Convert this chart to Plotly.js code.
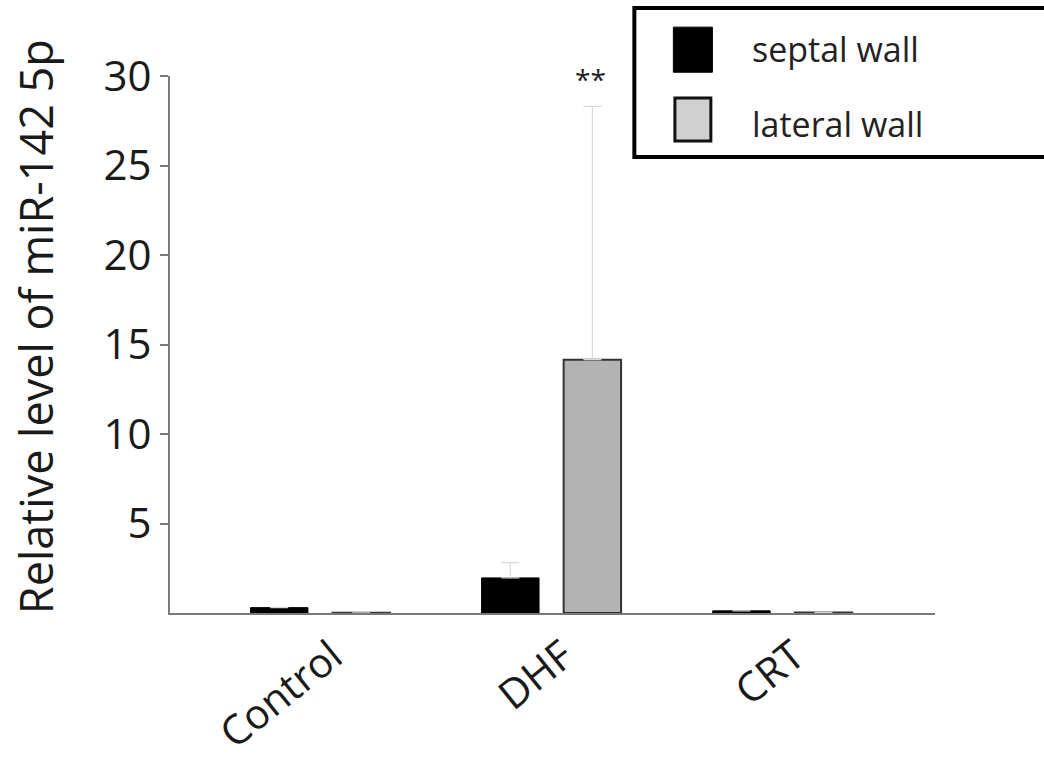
<!DOCTYPE html>
<html>
<head>
<meta charset="utf-8">
<script src="https://cdn.plot.ly/plotly-3.0.1.min.js"></script>
<style>html,body{margin:0;padding:0;background:#fff;}#chart{width:1044px;height:761px;}</style>
</head>
<body>
<div id="chart"></div>
<script>
const categories = ["Control", "DHF", "CRT"];
const septalValues = [0.3, 1.96, 0.12];
const septalErrors = [0, 0.85, 0];
const lateralValues = [0.01, 14.15, 0.03];
const lateralErrors = [0, 14.15, 0];
const yTickValues = [5, 10, 15, 20, 25, 30];
const seriesNames = ["septal wall", "lateral wall"];
const yTitle = "Relative level of miR-142 5p";

const traces = [
  {
    type: "bar", name: seriesNames[0], x: categories, y: septalValues,
    marker: {color: "#000000", line: {color: "#000000", width: 1}},
    error_y: {type: "data", symmetric: false, array: septalErrors, arrayminus: [0,0,0], color: "#d8d8d8", thickness: 1.2, width: 9},
    showlegend: false
  },
  {
    type: "bar", name: seriesNames[1], x: categories, y: lateralValues,
    marker: {color: "#b3b3b3", line: {color: "#333333", width: 2}},
    error_y: {type: "data", symmetric: false, array: lateralErrors, arrayminus: [0,0,0], color: "#d8d8d8", thickness: 1.2, width: 9},
    showlegend: false
  }
];

const layout = {
  width: 1044, height: 761,
  margin: {l: 170, r: 109, t: 76, b: 148},
  paper_bgcolor: "#ffffff", plot_bgcolor: "#ffffff",
  font: {family: "Open Sans, Noto Sans, sans-serif", color: "#1a1a1a"},
  barmode: "group", bargap: 0.29, bargroupgap: 0.3,
  showlegend: false,
  xaxis: {
    type: "category", range: [-0.65, 2.66],
    showline: true, linecolor: "#7a7a7a", linewidth: 2,
    ticks: "", showgrid: false, zeroline: false,
    tickangle: -39, tickfont: {size: 41, color: "#1a1a1a"},
    ticklabelshift: 12, ticklabelstandoff: 1
  },
  yaxis: {
    range: [0, 30], tickvals: yTickValues,
    showline: true, linecolor: "#7a7a7a", linewidth: 2,
    ticks: "outside", ticklen: 8, tickwidth: 2, tickcolor: "#7a7a7a",
    showgrid: false, zeroline: false,
    tickfont: {size: 42, color: "#1a1a1a"}
  },
  annotations: [
    {x: "DHF", y: 28.3, xref: "x", yref: "y", text: "**", showarrow: false,
     xshift: 39, yshift: 27, font: {size: 28, color: "#222"}},
    {xref: "paper", yref: "paper", x: -0.176, y: 0.533, xanchor: "center", yanchor: "middle",
     textangle: -90, text: yTitle, showarrow: false, font: {size: 45, color: "#1a1a1a"}}
  ],
  shapes: [
    {type: "rect", xref: "paper", yref: "paper", x0: 0.607, x1: 1.16, y0: 0.849, y1: 1.1266,
     line: {color: "#000", width: 4}, fillcolor: "#fff", layer: "above"},
    {type: "rect", xref: "paper", yref: "paper", x0: 0.658, x1: 0.709, y0: 1.007, y1: 1.091,
     line: {color: "#000", width: 1}, fillcolor: "#000", layer: "above"},
    {type: "rect", xref: "paper", yref: "paper", x0: 0.660, x1: 0.707, y0: 0.879, y1: 0.959,
     line: {color: "#111", width: 3}, fillcolor: "#d0d0d0", layer: "above"}
  ]
};
layout.annotations.push(
  {xref: "paper", yref: "paper", x: 0.758, y: 1.05, xanchor: "left", yanchor: "middle",
   text: seriesNames[0], showarrow: false, font: {size: 34, color: "#222"}},
  {xref: "paper", yref: "paper", x: 0.758, y: 0.91, xanchor: "left", yanchor: "middle",
   text: seriesNames[1], showarrow: false, font: {size: 34, color: "#222"}}
);

Plotly.newPlot("chart", traces, layout, {staticPlot: true, displayModeBar: false});
</script>
</body>
</html>
